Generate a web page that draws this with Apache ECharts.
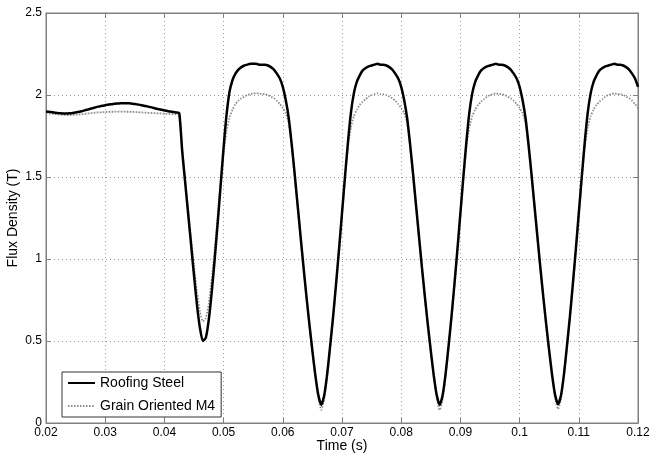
<!DOCTYPE html>
<html>
<head>
<meta charset="utf-8">
<script src="https://cdn.jsdelivr.net/npm/echarts@6/dist/echarts.min.js"></script>
<style>
html,body{margin:0;padding:0;background:#fff;}
#chart{width:649px;height:454px;}
</style>
</head>
<body>
<div id="chart"></div>
<script>
// Sampling grid of the time axis (s)
var timeStart = 0.02;
var timeStep = 0.0005;

// Roofing Steel flux density (T), one value per time sample
var roofingSteel = [
1.900,1.898,1.895,1.892,1.890,1.888,1.887,1.887,1.888,1.890,
1.893,1.897,1.901,1.906,1.911,1.916,1.921,1.926,1.930,1.934,
1.938,1.941,1.944,1.946,1.948,1.949,1.950,1.950,1.949,1.947,
1.945,1.942,1.939,1.935,1.931,1.927,1.923,1.918,1.914,1.910,
1.906,1.902,1.899,1.896,1.893,1.890,
1.66,1.47,1.28,1.09,0.90,0.72,0.58,0.50,0.52,0.63,
0.80,1.00,1.22,1.45,1.68,1.88,2.02,2.09,2.13,2.155,
2.17,2.18,2.185,2.19,2.19,2.19,2.185,
2.185,2.185,2.18,2.17,2.155,2.13,2.10,2.05,1.97,1.86,1.70,
1.52,1.33,1.14,0.95,0.77,0.60,0.44,0.29,0.17,0.11,
0.17,0.30,0.47,0.65,0.85,1.06,1.28,1.50,1.71,1.89,
2.01,2.08,2.12,2.15,2.165,2.175,2.18,2.185,2.19,
2.185,2.185,2.18,2.17,2.155,2.13,2.10,2.05,1.97,1.86,1.70,
1.52,1.33,1.14,0.95,0.77,0.60,0.44,0.29,0.17,0.11,
0.17,0.30,0.47,0.65,0.85,1.06,1.28,1.50,1.71,1.89,
2.01,2.08,2.12,2.15,2.165,2.175,2.18,2.185,2.19,
2.185,2.185,2.18,2.17,2.155,2.13,2.10,2.05,1.97,1.86,1.70,
1.52,1.33,1.14,0.95,0.77,0.60,0.44,0.29,0.17,0.115,
0.17,0.30,0.47,0.65,0.85,1.06,1.28,1.50,1.71,1.89,
2.01,2.08,2.12,2.15,2.165,2.175,2.18,2.185,2.19,
2.185,2.185,2.18,2.17,2.155,2.13,2.10,2.05
];

// Grain Oriented M4 flux density (T)
var grainOrientedM4 = [
1.890,1.888,1.886,1.884,1.882,1.880,1.879,1.878,1.878,1.879,
1.880,1.881,1.883,1.885,1.887,1.889,1.891,1.893,1.894,1.895,
1.896,1.897,1.898,1.898,1.899,1.899,1.899,1.898,1.898,1.897,
1.896,1.895,1.894,1.893,1.892,1.891,1.890,1.889,1.888,1.887,
1.886,1.885,1.884,1.883,1.882,1.880,
1.68,1.49,1.31,1.13,0.96,0.80,0.68,0.62,0.64,0.73,
0.88,1.06,1.26,1.46,1.64,1.78,1.86,1.91,1.945,1.965,
1.98,1.99,2.00,2.005,2.01,2.01,2.01,
2.005,2.005,2.00,1.99,1.98,1.965,1.945,1.92,1.89,1.83,1.69,
1.51,1.32,1.13,0.94,0.76,0.59,0.43,0.28,0.15,0.08,
0.15,0.29,0.46,0.64,0.84,1.05,1.27,1.49,1.68,1.80,
1.87,1.91,1.94,1.96,1.975,1.99,2.00,2.005,2.01,
2.005,2.005,2.00,1.99,1.98,1.965,1.945,1.92,1.89,1.83,1.69,
1.51,1.32,1.13,0.94,0.76,0.59,0.43,0.28,0.15,0.08,
0.15,0.29,0.46,0.64,0.84,1.05,1.27,1.49,1.68,1.80,
1.87,1.91,1.94,1.96,1.975,1.99,2.00,2.005,2.01,
2.005,2.005,2.00,1.99,1.98,1.965,1.945,1.92,1.89,1.83,1.69,
1.51,1.32,1.13,0.94,0.76,0.59,0.43,0.28,0.15,0.085,
0.15,0.29,0.46,0.64,0.84,1.05,1.27,1.49,1.68,1.80,
1.87,1.91,1.94,1.96,1.975,1.99,2.00,2.005,2.01,
2.005,2.005,2.00,1.99,1.98,1.965,1.945,1.92
];

var seriesNames = ['Roofing Steel', 'Grain Oriented M4'];
var xTicks = {min: 0.02, max: 0.12, interval: 0.01};
var yTicks = {min: 0, max: 2.5, interval: 0.5};

function pairs(arr) {
  return arr.map(function (v, i) {
    return [+(timeStart + i * timeStep).toFixed(4), v];
  });
}

var FONT = 'Liberation Sans, Arial, Helvetica, sans-serif';
var axisColor = '#7f7f7f';
var gridLine = {show: true, lineStyle: {color: '#9a9a9a', type: [1, 3], width: 1}};

var chart = echarts.init(document.getElementById('chart'), null, {renderer: 'canvas'});
chart.setOption({
  animation: false,
  backgroundColor: '#ffffff',
  grid: {left: 46, right: 11, top: 13, bottom: 31, show: true, borderColor: axisColor, borderWidth: 1,
         containLabel: false, outerBoundsMode: 'none'},
  legend: {
    left: 62, top: 372, orient: 'vertical',
    backgroundColor: '#ffffff', borderColor: '#333', borderWidth: 1,
    padding: [4, 6, 4, 5], itemGap: 9, itemWidth: 27, itemHeight: 10,
    itemStyle: {opacity: 0},
    textStyle: {fontFamily: FONT, fontSize: 14, color: '#000'},
    data: seriesNames
  },
  xAxis: [{
    type: 'value', min: xTicks.min, max: xTicks.max, interval: xTicks.interval,
    name: 'Time (s)', nameLocation: 'middle', nameGap: 16, nameMoveOverlap: false,
    nameTextStyle: {fontFamily: FONT, fontSize: 14, color: '#000'},
    axisLine: {show: true, onZero: false, lineStyle: {color: axisColor}},
    axisTick: {show: true, inside: true, length: 5, lineStyle: {color: axisColor}},
    axisLabel: {fontFamily: FONT, fontSize: 12, color: '#000', margin: 4},
    splitLine: gridLine
  }, {
    type: 'value', position: 'top', min: xTicks.min, max: xTicks.max, interval: xTicks.interval,
    axisLine: {show: true, onZero: false, lineStyle: {color: axisColor}},
    axisTick: {show: true, inside: true, length: 5, lineStyle: {color: axisColor}},
    axisLabel: {show: false}, splitLine: {show: false}
  }],
  yAxis: [{
    type: 'value', min: yTicks.min, max: yTicks.max, interval: yTicks.interval,
    name: 'Flux Density (T)', nameLocation: 'middle', nameGap: 26, nameMoveOverlap: false,
    nameTextStyle: {fontFamily: FONT, fontSize: 14, color: '#000'},
    axisLine: {show: true, onZero: false, lineStyle: {color: axisColor}},
    axisTick: {show: true, inside: true, length: 5, lineStyle: {color: axisColor}},
    axisLabel: {fontFamily: FONT, fontSize: 12, color: '#000', margin: 4},
    splitLine: gridLine
  }, {
    type: 'value', position: 'right', min: yTicks.min, max: yTicks.max, interval: yTicks.interval,
    axisLine: {show: true, onZero: false, lineStyle: {color: axisColor}},
    axisTick: {show: true, inside: true, length: 5, lineStyle: {color: axisColor}},
    axisLabel: {show: false}, splitLine: {show: false}
  }],
  series: [{
    name: seriesNames[0], type: 'line', showSymbol: false, symbol: 'none',
    smooth: 0.2, z: 3,
    lineStyle: {color: '#000000', width: 2.5},
    itemStyle: {color: '#000000'},
    data: pairs(roofingSteel)
  }, {
    name: seriesNames[1], type: 'line', showSymbol: false, symbol: 'none',
    smooth: 0.2, z: 2,
    lineStyle: {color: '#8c8c8c', width: 1.8, type: [1.5, 1.5]},
    itemStyle: {color: '#8c8c8c'},
    data: pairs(grainOrientedM4)
  }]
});
</script>
</body>
</html>
